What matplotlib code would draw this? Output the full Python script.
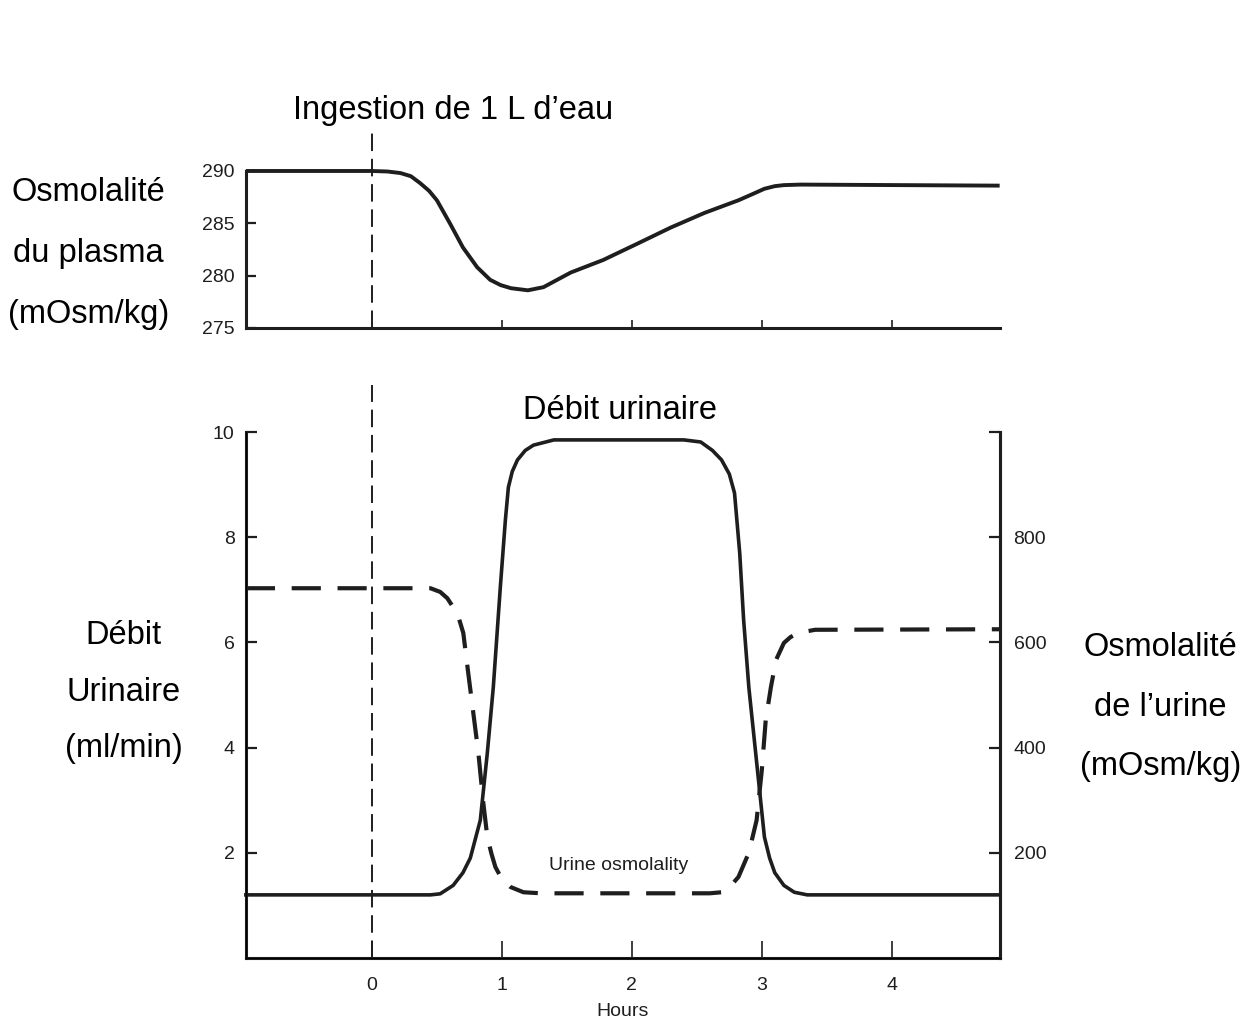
import numpy as np
import matplotlib
matplotlib.use("Agg")
import matplotlib.pyplot as plt

plt.rcParams['font.family'] = ['Liberation Sans', 'DejaVu Sans']

# plasma osmolality (mOsm/kg) vs hours
plasma_t = [-0.97, 0.0, 0.12, 0.22, 0.3, 0.37, 0.44, 0.5, 0.6, 0.7, 0.81, 0.91, 0.99, 1.07,
            1.2, 1.32, 1.53, 1.78, 2.05, 2.3, 2.56, 2.82, 2.93, 3.02, 3.1, 3.17, 3.3, 4.83]
plasma_osm = [290, 290, 289.95, 289.8, 289.5, 288.85, 288.1, 287.2, 285.0, 282.7, 280.8, 279.6, 279.1, 278.8,
              278.6, 278.9, 280.3, 281.5, 283.1, 284.6, 286.0, 287.2, 287.8, 288.3, 288.55, 288.65, 288.7, 288.6]

# urine flow (ml/min)
flow_t = [-0.97, 0.45, 0.525, 0.625, 0.7, 0.757, 0.834, 0.888, 0.934, 0.988, 1.027, 1.05, 1.08, 1.12,
          1.18, 1.243, 1.4, 2.4, 2.53, 2.62, 2.69, 2.75, 2.79, 2.83, 2.86, 2.9, 2.94, 2.98, 3.02,
          3.06, 3.1, 3.17, 3.25, 3.35, 4.83]
flow = [1.2, 1.2, 1.22, 1.38, 1.62, 1.9, 2.62, 3.9, 5.15, 7.05, 8.33, 8.95, 9.25, 9.47,
        9.65, 9.75, 9.85, 9.85, 9.81, 9.65, 9.47, 9.2, 8.84, 7.7, 6.43, 5.15, 4.2, 3.25, 2.3,
        1.9, 1.62, 1.38, 1.25, 1.2, 1.2]

# urine osmolality (mOsm/kg)
uosm_t = [-0.97, 0.45, 0.525, 0.58, 0.625, 0.67, 0.703, 0.741, 0.78, 0.819, 0.857, 0.888, 0.92, 0.95,
          1.0, 1.066, 1.166, 1.3, 2.6, 2.69, 2.76, 2.82, 2.9, 2.96, 3.0, 3.03, 3.07, 3.11, 3.17,
          3.22, 3.28, 3.41, 4.83]
uosm = [703, 703, 696, 684, 667, 645, 618, 542, 466, 390, 295, 230, 198, 173,
        150, 135, 125, 123, 123, 125, 137, 154, 200, 262, 357, 452, 515, 567, 599,
        610, 618, 624, 625]

fig = plt.figure(figsize=(12.48, 10.35), dpi=100)
ink = '#1e1e1e'

# top panel
ax1 = fig.add_axes([0.197, 0.6831, 0.604, 0.1517])
ax1.plot(plasma_t, plasma_osm, color=ink, lw=2.8, clip_on=False, solid_capstyle='butt',
         solid_joinstyle='round')
ax1.plot([0, 0], [275, 293.6], color=ink, lw=1.4, dashes=(9, 4), clip_on=False)
ax1.set_xlim(-0.97, 4.83)
ax1.set_ylim(275, 290)
ax1.set_yticks([275, 280, 285, 290])
ax1.set_xticks([1, 2, 3, 4])
ax1.set_xticklabels([])
ax1.tick_params(axis='y', direction='in', length=7, width=1.6, labelsize=14, pad=8, colors=ink)
ax1.tick_params(axis='x', direction='in', length=6, width=1.2, colors=ink)
for s in ['top', 'right']:
    ax1.spines[s].set_visible(False)
for s in ['left', 'bottom']:
    ax1.spines[s].set_linewidth(2.2)
    ax1.spines[s].set_color(ink)

# bottom panel
ax2 = fig.add_axes([0.197, 0.0744, 0.604, 0.5082])
ax2.plot(flow_t, flow, color=ink, lw=2.6, clip_on=False, solid_joinstyle='round')
ax2.plot([0, 0], [0, 10.9], color=ink, lw=1.4, dashes=(9, 4), clip_on=False)
ax2.set_xlim(-0.97, 4.83)
ax2.set_ylim(0, 10)
ax2.set_yticks([2, 4, 6, 8, 10])
ax2.set_xticks([0, 1, 2, 3, 4])
ax2.tick_params(axis='y', direction='in', length=8, width=1.6, labelsize=14, pad=8, colors=ink)
ax2.tick_params(axis='x', direction='in', length=12, width=1.2, labelsize=14, pad=14, colors=ink)
ax2.set_xlabel('Hours', fontsize=14, color=ink, labelpad=6)
ax2.spines['top'].set_visible(False)
for s in ['left', 'bottom', 'right']:
    ax2.spines[s].set_linewidth(2.2)
    ax2.spines[s].set_color(ink)

ax3 = ax2.twinx()
ax3.plot(uosm_t, uosm, color=ink, lw=3.0, dashes=(7, 4), clip_on=False)
ax3.set_ylim(0, 1000)
ax3.set_yticks([200, 400, 600, 800, 1000])
ax3.set_yticklabels(['200', '400', '600', '800', ''])
ax3.tick_params(axis='y', direction='in', length=8, width=1.6, labelsize=14, pad=10, colors=ink)
ax3.spines['top'].set_visible(False)
ax3.spines['right'].set_linewidth(2.2)
ax3.spines['right'].set_color(ink)
ax3.text(1.9, 160, 'Urine osmolality', fontsize=14, color=ink, ha='center', va='bottom')

# annotations
fig.text(0.363, 0.893, 'Ingestion de 1 L d\u2019eau', fontsize=23.5, ha='center', va='center', color='black')
fig.text(0.497, 0.603, 'Débit urinaire', fontsize=23.5, ha='center', va='center', color='black')
fig.text(0.071, 0.7546, 'Osmolalité\ndu plasma\n(mOsm/kg)', fontsize=23.5, ha='center', va='center',
         linespacing=2.25, color='black')
fig.text(0.099, 0.3314, 'Débit\nUrinaire\n(ml/min)', fontsize=23.5, ha='center', va='center',
         linespacing=2.05, color='black')
fig.text(0.93, 0.3169, 'Osmolalité\nde l\u2019urine\n(mOsm/kg)', fontsize=23.5, ha='center', va='center',
         linespacing=2.2, color='black')

fig.savefig('out.png', dpi=100, facecolor='white')
